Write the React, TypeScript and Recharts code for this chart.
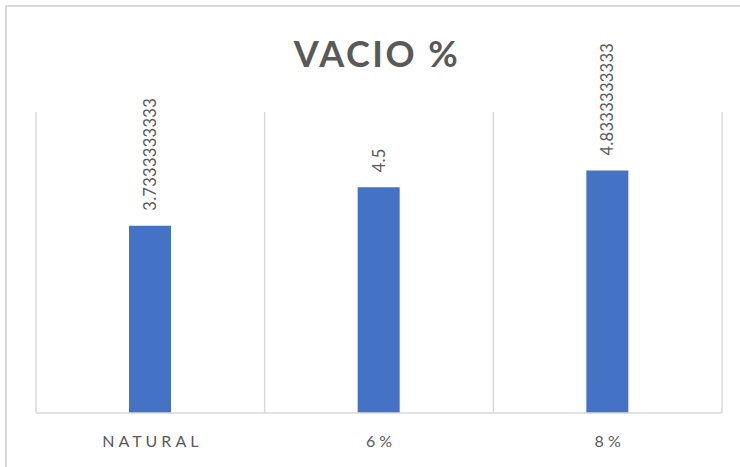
import React from 'react';
import { BarChart, Bar, XAxis, YAxis, CartesianGrid, LabelList } from 'recharts';

const categories = ['NATURAL', '6%', '8%'];
const vacio = [3.7333333333, 4.5, 4.8333333333];
const valueLabels = ['3.7333333333', '4.5', '4.8333333333'];

const data = categories.map((c, i) => ({ name: c, value: vacio[i], label: valueLabels[i] }));

const FONT = 'Lato, "Open Sans", sans-serif';
const GRAY = '#595959';

const ValueLabel = (props: any) => {
  const { x, y, width, index } = props;
  const cx = x + width / 2;
  const y0 = y - 15;
  return (
    <text
      x={cx}
      y={y0}
      transform={`rotate(-90 ${cx} ${y0})`}
      textAnchor="start"
      dominantBaseline="central"
      fill={GRAY}
      fontSize={16.5}
      fontFamily={FONT}
      letterSpacing={0.3}
    >
      {valueLabels[index]}
    </text>
  );
};

const Tick = (props: any) => {
  const { x, y, payload } = props;
  return (
    <text
      x={x + 2}
      y={y + 26}
      textAnchor="middle"
      fill={GRAY}
      fontSize={16}
      fontFamily={FONT}
      letterSpacing={4}
    >
      {payload.value}
    </text>
  );
};

export default function App() {
  return (
    <div style={{ position: 'absolute', left: 0, top: 0, width: 740, height: 467, overflow: 'hidden', background: '#fff' }}>
      <div
        style={{
          position: 'absolute',
          left: 5,
          top: 5,
          width: 800,
          height: 520,
          borderLeft: '2px solid #d9d9d9',
          borderTop: '2px solid #d9d9d9',
        }}
      />
      <div
        style={{
          position: 'absolute',
          left: 0,
          top: 33,
          width: 754,
          textAlign: 'center',
          fontFamily: FONT,
          fontWeight: 'bold',
          fontSize: 36,
          color: GRAY,
          letterSpacing: 2.5,
          lineHeight: '40px',
        }}
      >
        VACIO %
      </div>
      <div style={{ position: 'absolute', left: 0, top: 0 }}>
        <BarChart
          width={740}
          height={467}
          data={data}
          margin={{ top: 112, right: 18, bottom: 24, left: 36 }}
          barSize={42}
        >
          <CartesianGrid
            horizontal={false}
            stroke="#d9d9d9"
            strokeWidth={1.5}
            verticalCoordinatesGenerator={({ offset }: any) =>
              [0, 1, 2, 3].map((i) => offset.left + (i * offset.width) / categories.length)
            }
          />
          <XAxis
            dataKey="name"
            height={30}
            axisLine={{ stroke: '#d9d9d9', strokeWidth: 1.5 }}
            tickLine={false}
            tick={<Tick />}
            interval={0}
          />
          <YAxis hide domain={[0, 6]} />
          <Bar dataKey="value" fill="#4472C4" isAnimationActive={false}>
            <LabelList dataKey="value" content={<ValueLabel />} />
          </Bar>
        </BarChart>
      </div>
    </div>
  );
}
